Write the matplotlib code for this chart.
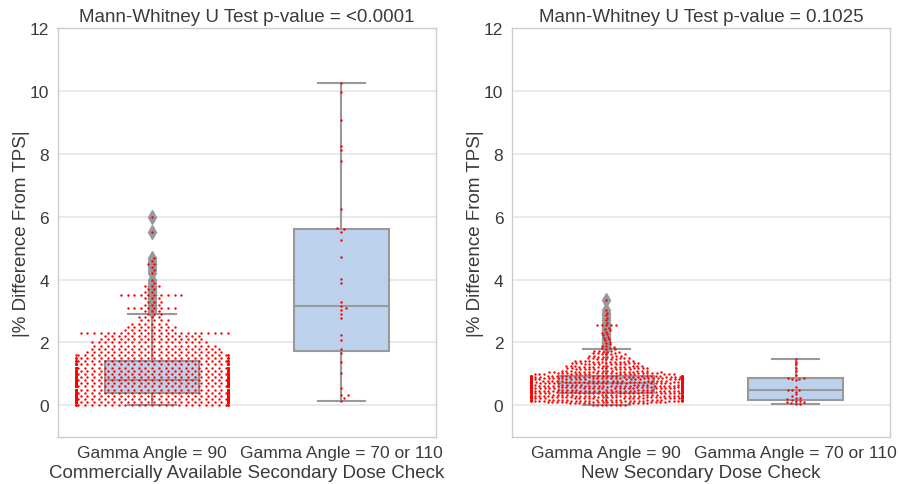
import numpy as np
import matplotlib
matplotlib.use('Agg')
import matplotlib.pyplot as plt

# labels
cats = ['Gamma Angle = 90', 'Gamma Angle = 70 or 110']
titles = ['Mann-Whitney U Test p-value = <0.0001', 'Mann-Whitney U Test p-value = 0.1025']
xlabels = ['Commercially Available Secondary Dose Check', 'New Secondary Dose Check']
ylabel = '|% Difference From TPS|'
yticks = [0, 2, 4, 6, 8, 10, 12]

# commercial check, gamma 90 (values rounded to 0.1, counts per value)
comm90_vals = [0.0, 0.1, 0.2, 0.3, 0.4, 0.5, 0.6, 0.7, 0.8, 0.9, 1.0, 1.1, 1.2, 1.3, 1.4,
               1.5, 1.6, 1.7, 1.8, 1.9, 2.0, 2.1, 2.2, 2.3, 2.4, 2.5, 2.6, 2.7, 2.8, 2.9,
               3.0, 3.1, 3.2, 3.3, 3.4, 3.5, 3.6, 3.7, 3.8, 3.9, 4.0, 4.2, 4.3, 4.4, 4.5,
               4.6, 4.7, 5.5, 6.0]
comm90_counts = [30, 66, 72, 72, 66, 66, 64, 62, 60, 54, 48, 44, 40, 36, 32,
                 28, 26, 21, 20, 19, 18, 16, 15, 23, 8, 8, 6, 5, 4, 3,
                 3, 8, 3, 3, 3, 10, 2, 2, 3, 1, 1, 1, 1, 1, 2,
                 1, 1, 1, 1]

# commercial check, gamma 70 or 110
comm70 = [0.12, 0.22, 0.32, 0.32, 0.56, 1.02, 1.39, 1.65, 1.79, 2.06, 2.25, 2.76, 2.90,
          3.03, 3.10, 3.15, 3.28, 3.89, 4.01, 4.71, 5.26, 5.50, 5.60, 5.63, 6.25, 7.76,
          8.11, 8.26, 9.07, 9.98, 10.25]

# new check, gamma 90 (values binned to 0.04, counts per value)
new90_vals = [0.02, 0.06, 0.10, 0.14, 0.18, 0.22, 0.26, 0.30, 0.34, 0.38,
              0.42, 0.46, 0.50, 0.54, 0.58, 0.62, 0.66, 0.70,
              0.74, 0.78, 0.82, 0.86, 0.90, 0.94,
              0.98, 1.02, 1.06, 1.10, 1.14, 1.18, 1.22, 1.26,
              1.30, 1.34, 1.38, 1.42, 1.46, 1.50, 1.54, 1.58, 1.62, 1.66, 1.70, 1.74, 1.78,
              1.82, 1.86, 1.90, 1.94, 1.98, 2.02, 2.06, 2.10, 2.14, 2.18, 2.22, 2.26,
              2.30, 2.34, 2.38, 2.42, 2.46, 2.54, 2.62, 2.70, 2.78, 2.86, 2.94, 3.02, 3.34]
new90_counts = [8, 10, 16, 20, 22, 22, 22, 22, 22, 22,
                24, 26, 26, 26, 26, 26, 26, 26,
                28, 28, 28, 28, 28, 26,
                15, 13, 12, 10, 9, 9, 9, 8,
                8, 7, 7, 6, 5, 5, 4, 4, 4, 3, 3, 3, 2,
                2, 1, 2, 1, 1, 1, 1, 1, 1, 1, 1, 1,
                1, 1, 1, 1, 1, 5, 1, 1, 1, 1, 1, 1, 1]

# new check, gamma 70 or 110
new70 = [0.03, 0.04, 0.06, 0.09, 0.09, 0.12, 0.15, 0.17, 0.19, 0.22, 0.24, 0.28, 0.35, 0.43,
         0.47, 0.49, 0.49, 0.59, 0.80, 0.85, 0.85, 0.87, 0.88, 0.96, 1.10, 1.20, 1.30,
         1.39, 1.47]

panels = [
    [np.repeat(comm90_vals, comm90_counts), np.array(comm70)],
    [np.repeat(new90_vals, new90_counts), np.array(new70)],
]
# swarm spacing (px) and vertical stretch used for packing, per panel
swarm_d = [6.7, 4.6]
swarm_stretch = [2.0, 1.8]

box_face = '#bcd2ec'
box_edge = '#999999'
text_col = '#3a3a3a'

plt.rcParams['font.family'] = ['Liberation Sans', 'DejaVu Sans']

W, H = 898, 485
fig = plt.figure(figsize=(W / 100, H / 100), dpi=100)
ax_w, ax_h = 378.5, 408.7
lefts = [57.5, 511.7]
bottom = H - 437.7


def swarm_x(vals, center, ppx, ppy, d=6.7, stretch=1.8, half=0.4):
    # simple beeswarm in pixel space, points that do not fit go to the edge
    vals = np.asarray(vals, float)
    order = np.argsort(vals, kind='stable')
    ys = vals[order] * ppy * stretch
    xs = np.zeros(len(ys))
    for i in range(len(ys)):
        y = ys[i]
        lo = np.searchsorted(ys[:i], y - d, side='right')
        nx = xs[lo:i]
        ny = ys[lo:i]
        if len(nx) == 0:
            continue
        dy = y - ny
        dx = np.sqrt(np.maximum(d * d - dy * dy, 0))
        cands = np.concatenate([[0.0], nx + dx, nx - dx])
        cands = cands[np.argsort(np.abs(cands), kind='stable')]
        ok = ((cands[:, None] - nx[None, :]) ** 2 + dy[None, :] ** 2 >= d * d - 1e-6).all(axis=1)
        xs[i] = cands[np.argmax(ok)]
    out = np.empty(len(vals))
    out[order] = xs / ppx
    return center + np.clip(out, -half, half)


for k, groups in enumerate(panels):
    ax = fig.add_axes([lefts[k] / W, bottom / H, ax_w / W, ax_h / H])
    ax.boxplot(groups, positions=[0, 1], widths=0.5, patch_artist=True, whis=1.501,
               boxprops=dict(facecolor=box_face, edgecolor=box_edge, linewidth=1.5),
               medianprops=dict(color=box_edge, linewidth=1.5),
               whiskerprops=dict(color=box_edge, linewidth=1.5),
               capprops=dict(color=box_edge, linewidth=1.5),
               flierprops=dict(marker='d', markerfacecolor=box_edge,
                               markeredgecolor=box_edge, markersize=7))
    ax.set_xlim(-0.5, 1.5)
    ax.set_ylim(-1, 12)
    ppx = ax_w / 2.0
    ppy = ax_h / 13.0
    for i, g in enumerate(groups):
        xs = swarm_x(g, i, ppx, ppy, d=swarm_d[k], stretch=swarm_stretch[k])
        ax.scatter(xs, g, s=3, color='red', linewidths=0, zorder=3)

    ax.set_xticks([0, 1])
    ax.set_xticklabels(cats)
    ax.set_yticks(yticks)
    ax.yaxis.grid(True, color='#e3e3e3', linewidth=1.1)
    ax.xaxis.grid(False)
    ax.set_axisbelow(True)
    for s in ax.spines.values():
        s.set_color('#cccccc')
        s.set_linewidth(1.0)
    ax.tick_params(length=0, labelsize=12.5, colors=text_col, pad=6)
    ax.set_title(titles[k], fontsize=13.5, color=text_col, pad=5)
    ax.set_xlabel(xlabels[k], fontsize=13.5, color=text_col, labelpad=3)
    ax.set_ylabel(ylabel, fontsize=13.5, color=text_col, labelpad=0)

fig.savefig('out.png', dpi=100)
